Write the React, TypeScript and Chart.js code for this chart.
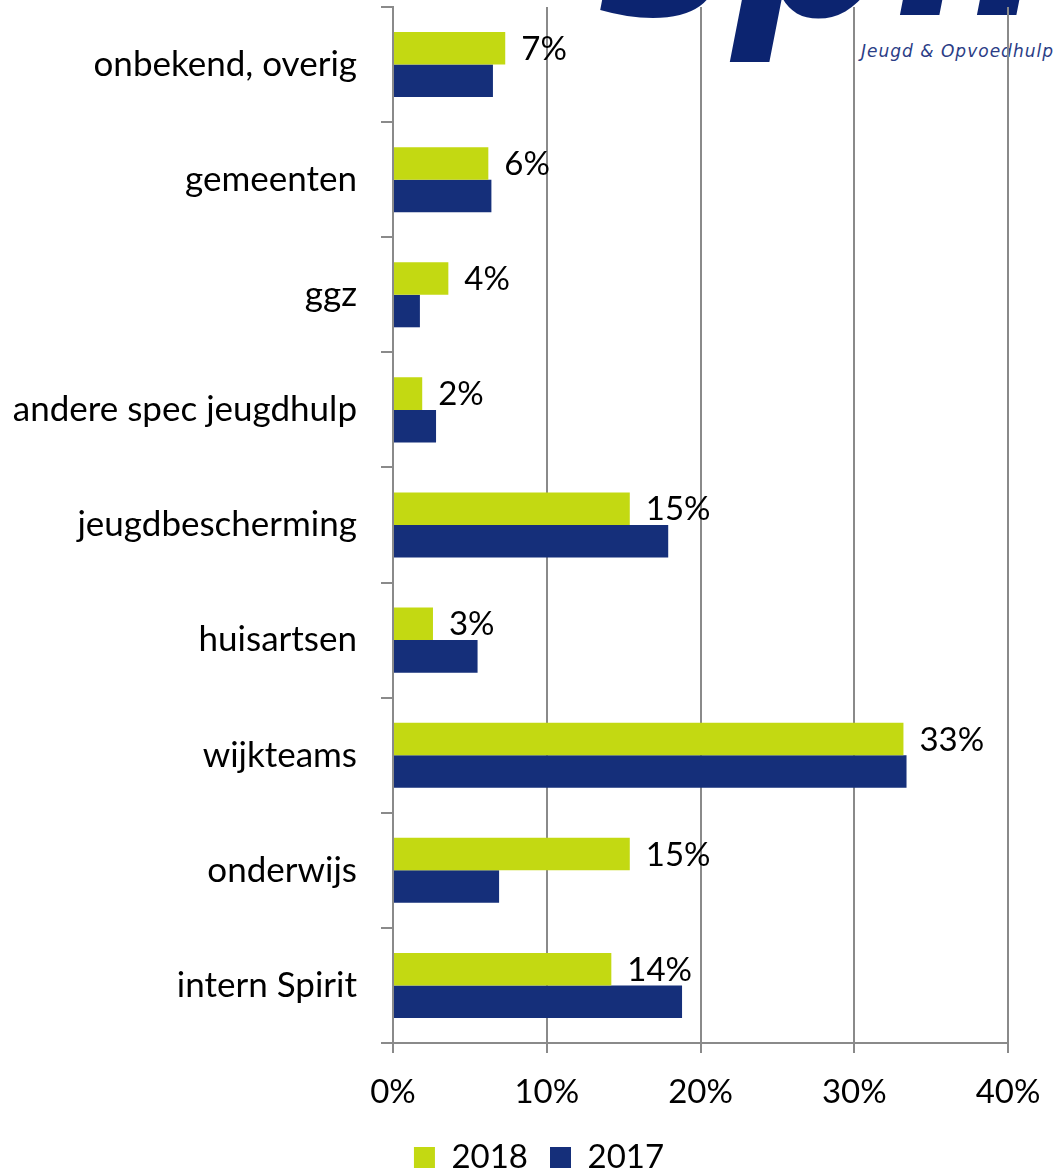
import React, { useEffect, useRef } from "react";
import { Chart, registerables } from "chart.js";

Chart.register(...registerables);

const categories = [
  "onbekend, overig",
  "gemeenten",
  "ggz",
  "andere spec jeugdhulp",
  "jeugdbescherming",
  "huisartsen",
  "wijkteams",
  "onderwijs",
  "intern Spirit",
];
const series2018 = [7.3, 6.2, 3.6, 1.9, 15.4, 2.6, 33.2, 15.4, 14.2];
const series2017 = [6.5, 6.4, 1.75, 2.8, 17.9, 5.5, 33.4, 6.9, 18.8];
const seriesNames = ["2018", "2017"];
const xTicks = [0, 10, 20, 30, 40];

const COLOR_2018 = "#c3d912";
const COLOR_2017 = "#152f7a";
const GRID = "#8a8a8a";
const FONT = "Lato, 'Open Sans', sans-serif";

const W = 1056;
const H = 1172;
const LEGEND_SHIFT = 70;

const labelPlugin = {
  id: "barLabels",
  afterDatasetsDraw(chart: any) {
    const ctx = chart.ctx;
    const meta = chart.getDatasetMeta(0);
    const data = chart.data.datasets[0].data as number[];
    ctx.save();
    ctx.font = `33px ${FONT}`;
    ctx.fillStyle = "#000";
    ctx.textAlign = "left";
    ctx.textBaseline = "middle";
    meta.data.forEach((bar: any, i: number) => {
      ctx.fillText(Math.round(data[i]) + "%", bar.x + 16, bar.y + 1);
    });
    ctx.restore();
  },
};

const legendShiftPlugin = {
  id: "legendShift",
  afterLayout(chart: any) {
    if (chart.legend) {
      chart.legend.left = chart.legend.left + LEGEND_SHIFT;
    }
  },
};

export default function App() {
  const ref = useRef<HTMLCanvasElement | null>(null);

  useEffect(() => {
    if (!ref.current) return;
    const chart = new Chart(ref.current, {
      type: "bar",
      data: {
        labels: categories,
        datasets: [
          {
            label: seriesNames[0],
            data: series2018,
            backgroundColor: COLOR_2018,
            categoryPercentage: 0.565,
            barPercentage: 1,
          },
          {
            label: seriesNames[1],
            data: series2017,
            backgroundColor: COLOR_2017,
            categoryPercentage: 0.565,
            barPercentage: 1,
          },
        ],
      },
      options: {
        indexAxis: "y",
        responsive: false,
        animation: false,
        layout: { padding: { top: 7, right: 48, left: 0, bottom: -12 } },
        plugins: {
          legend: {
            position: "bottom",
            labels: {
              font: { family: FONT, size: 33 },
              color: "#000",
              boxWidth: 21,
              boxHeight: 21,
              padding: 22,
            },
          },
          tooltip: { enabled: false },
        },
        scales: {
          x: {
            min: 0,
            max: 40,
            afterBuildTicks: (scale: any) => {
              scale.ticks = xTicks.map((v) => ({ value: v }));
            },
            afterFit: (scale: any) => {
              scale.height = 76;
              scale.paddingLeft = 0;
              scale.paddingRight = 0;
            },
            ticks: {
              font: { family: FONT, size: 33 },
              color: "#000",
              padding: 20,
              callback: (v: any) => v + "%",
            },
            grid: {
              color: GRID,
              lineWidth: 2,
              tickLength: 10,
            },
            border: { color: GRID, width: 2 },
          },
          y: {
            afterFit: (scale: any) => {
              scale.width = 393;
              scale.paddingTop = 0;
              scale.paddingBottom = 0;
            },
            ticks: {
              font: { family: FONT, size: 35 },
              color: "#000",
              padding: 24,
            },
            grid: {
              drawOnChartArea: false,
              color: GRID,
              lineWidth: 2,
              tickLength: 12,
            },
            border: { color: GRID, width: 2 },
          },
        },
      },
      plugins: [labelPlugin, legendShiftPlugin],
    });
    return () => chart.destroy();
  }, []);

  return (
    <div style={{ position: "absolute", left: 0, top: 0, width: W, height: H, background: "#fff", overflow: "hidden" }}>
      <svg
        width={W}
        height={90}
        style={{ position: "absolute", left: 0, top: 0 }}
      >
        <text
          x={598}
          y={15}
          fontFamily="'DejaVu Sans', sans-serif"
          fontWeight="bold"
          fontStyle="italic"
          fontSize={225}
          fill="#0c2470"
        >
          spirit
        </text>
        <text
          x={861}
          y={57}
          fontFamily="'DejaVu Sans', sans-serif"
          fontStyle="italic"
          fontSize={17}
          fill="#2b3d86"
          textLength={192}
          lengthAdjust="spacing"
        >
          Jeugd &amp; Opvoedhulp
        </text>
      </svg>
      <canvas
        ref={ref}
        width={W}
        height={H}
        style={{ position: "absolute", left: 0, top: 0 }}
      />
    </div>
  );
}
